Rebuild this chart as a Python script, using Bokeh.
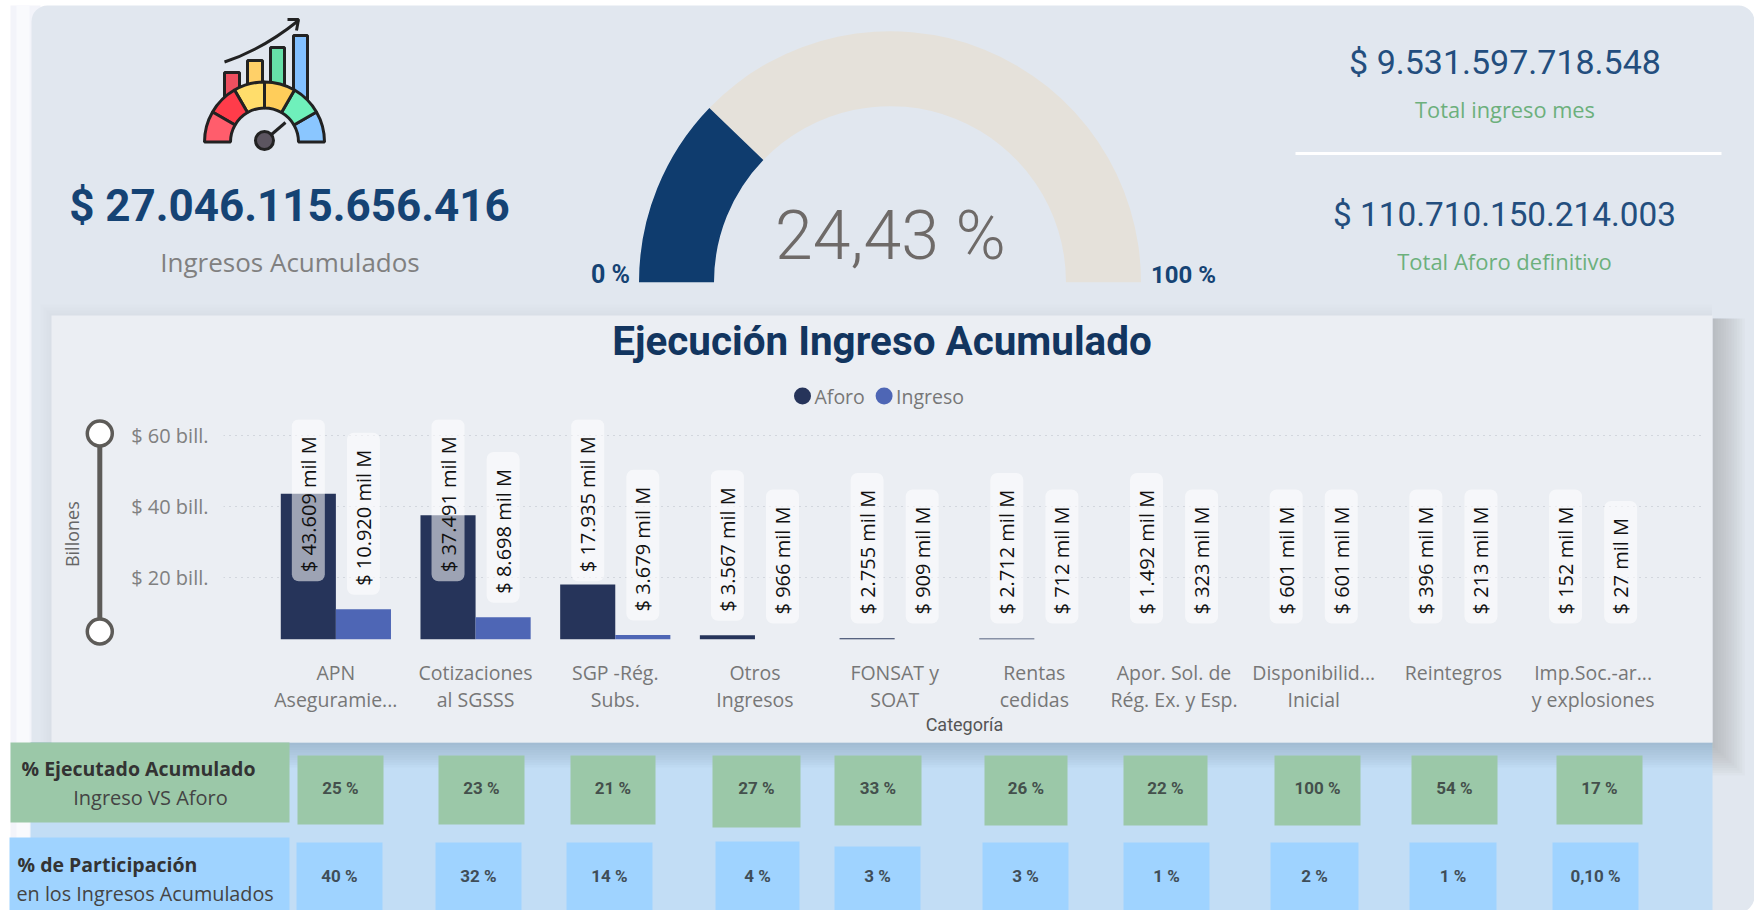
from math import pi, cos, sin, radians
from bokeh.embed import file_html
from bokeh.resources import INLINE
from bokeh.plotting import figure
from bokeh.layouts import column
from bokeh.models import Range1d, FactorRange, Label, FixedTicker, ColumnDataSource, CDSView, BooleanFilter
from bokeh.core.properties import value
from bokeh.transform import dodge

# ---------- data ----------
categories = ["APN\nAseguramie...", "Cotizaciones\nal SGSSS", "SGP -Rég.\nSubs.", "Otros\nIngresos",
              "FONSAT y\nSOAT", "Rentas\ncedidas", "Apor. Sol. de\nRég. Ex. y Esp.",
              "Disponibilid...\nInicial", "Reintegros", "Imp.Soc.-ar...\ny explosiones"]
aforo = [43.609, 37.491, 17.935, 3.567, 2.755, 2.712, 1.492, 0.601, 0.396, 0.152]
ingreso = [10.920, 8.698, 3.679, 0.966, 0.909, 0.712, 0.323, 0.601, 0.213, 0.027]
aforo_labels = ["$ 43.609 mil M", "$ 37.491 mil M", "$ 17.935 mil M", "$ 3.567 mil M", "$ 2.755 mil M",
                "$ 2.712 mil M", "$ 1.492 mil M", "$ 601 mil M", "$ 396 mil M", "$ 152 mil M"]
ingreso_labels = ["$ 10.920 mil M", "$ 8.698 mil M", "$ 3.679 mil M", "$ 966 mil M", "$ 909 mil M",
                  "$ 712 mil M", "$ 323 mil M", "$ 601 mil M", "$ 213 mil M", "$ 27 mil M"]
y_ticks = [20, 40, 60]
y_tick_labels = ["$ 20 bill.", "$ 40 bill.", "$ 60 bill."]
ejecutado = ["25 %", "23 %", "21 %", "27 %", "33 %", "26 %", "22 %", "100 %", "54 %", "17 %"]
participacion = ["40 %", "32 %", "14 %", "4 %", "3 %", "3 %", "1 %", "2 %", "1 %", "0,10 %"]
gauge_value = 24.43

# ---------- layout of the table cells (page pixels) ----------
green_x = [(297, 383), (438, 524), (570, 655), (712, 800), (834, 921), (984, 1067), (1123, 1207), (1274, 1360), (1411, 1497), (1556, 1642)]
green_b = [824, 824, 824, 827, 825, 825, 825, 825, 824, 824]
blue_x = [(296, 382), (435, 521), (566, 652), (715, 799), (834, 920), (982, 1068), (1123, 1209), (1270, 1358), (1409, 1496), (1552, 1638)]
blue_t = [842, 842, 842, 841, 846, 842, 842, 842, 842, 842]

NAVY = "#154374"
DIN = value("Roboto")
SEGOE = value("Open Sans")
PANEL_R = 1712

bg = figure(width=1754, height=910, x_range=Range1d(0, 1754), y_range=Range1d(910, 0),
            x_axis_type=None, y_axis_type=None, toolbar_location=None, output_backend="svg",
            min_border=0, outline_line_color=None, background_fill_color="white", border_fill_color="white",
            frame_align=False)
bg.grid.visible = False


def box(l, r, t, b, color, alpha=1.0, radius=0):
    return bg.quad(left=[l], right=[r], top=[t], bottom=[b], fill_color=color, fill_alpha=alpha,
                   line_color=None, border_radius=radius)


def txt(x, y, s, size, color, font=SEGOE, style="normal", align="center", angle=0):
    bg.text(x=[x], y=[y], text=[s], text_font=font, text_font_size=f"{size}px", text_font_style=style,
            text_color=color, text_align=align, text_baseline="middle", angle=angle)


# page, card, strips
box(10, 40, 5, 910, "#f3f4fa")
box(16, 29, 5, 910, "#f9fafd")
box(31, 1754, 5, 912, "#e1e7ef", radius=16)

# icon
cx_i, cy_i = 264, 141.5
seg_cols = ["#8ac6ff", "#6ff0bb", "#ffcd5a", "#ffdd6b", "#ff3c4a", "#ff5d6c"]
bg.quad(left=[224, 247, 270, 293], right=[239, 262, 284, 307], top=[72, 60, 47, 35], bottom=[100, 90, 90, 100],
        fill_color=["#ef4f5f", "#ffd068", "#66e0a8", "#82c0ff"], line_color="#222222", line_width=3)
for i, c in enumerate(seg_cols):
    bg.annular_wedge(x=[cx_i], y=[cy_i], inner_radius=34, outer_radius=60, start_angle=radians(i * 30),
                     end_angle=radians((i + 1) * 30), fill_color=c, line_color="#222222", line_width=3)
bg.quadratic(x0=[224], y0=[61.5], x1=[298], y1=[20], cx=[262], cy=[49], line_color="#222222", line_width=3)
bg.multi_line(xs=[[287, 298, 296]], ys=[[19, 19, 30]], line_color="#222222", line_width=3)
bg.segment(x0=[264], y0=[140], x1=[285], y1=[122], line_color="#222222", line_width=3)
bg.scatter(x=[264], y=[140], size=18, fill_color="#5c5560", line_color="#222222", line_width=3)

# KPIs
txt(289, 205, "$ 27.046.115.656.416", 44, NAVY, DIN, "bold")
txt(289.5, 261, "Ingresos Acumulados", 26, "#808080")
txt(1504.5, 61.5, "$ 9.531.597.718.548", 34, "#234e7e", DIN)
txt(1504.5, 109, "Total ingreso mes", 21.8, "#6cb07c")
bg.segment(x0=[1295], y0=[153], x1=[1721], y1=[153], line_color="white", line_width=3)
txt(1504, 214, "$ 110.710.150.214.003", 33.3, "#234e7e", DIN)
txt(1504, 260, "Total Aforo definitivo", 22, "#6cb07c")

# gauge
gx, gy, gR, gr = 889.5, 281.7, 251, 176
split = pi * (1 - gauge_value / 100)
bg.annular_wedge(x=[gx], y=[gy], inner_radius=gr, outer_radius=gR, start_angle=0, end_angle=split,
                 fill_color="#e5e1da", line_color=None)
bg.annular_wedge(x=[gx], y=[gy], inner_radius=gr, outer_radius=gR, start_angle=split, end_angle=pi,
                 fill_color="#0f3c6e", line_color=None)
txt(890, 235, f"{gauge_value:.2f} %".replace(".", ","), 68, "#6e6a68", value("Roboto Light"))
txt(610, 274, "0 %", 25, NAVY, DIN, "bold")
txt(1183, 274, "100 %", 24, NAVY, DIN, "bold")

# lower blue band with shadow
box(30, PANEL_R, 742, 910, "#c2ddf5")
for k in range(10):
    box(30, PANEL_R, 742, 742 + 2.5 * (10 - k), "#7f93aa", 0.045)
# panel shadow right
for k in range(12):
    box(PANEL_R, PANEL_R + 2.7 * (12 - k), 318, 775 - 2.5 * k, "#909090", 0.043)
# soft shadow top/left
for k in range(8):
    box(51 - 1.5 * (8 - k), PANEL_R, 315 - 1.5 * (8 - k), 742, "#909090", 0.012)
# panel
box(51, PANEL_R, 315, 742, "#ebeef3")

# panel texts
txt(881.5, 341, "Ejecución Ingreso Acumulado", 40.4, "#12355f", DIN, "bold")
bg.scatter(x=[802, 883.6], y=[395.5, 395.5], size=17, fill_color=["#26345a", "#4e66b5"], line_color=None)
txt(814, 395.5, "Aforo", 19.5, "#777777", align="left")
txt(895.5, 395.5, "Ingreso", 19.5, "#777777", align="left")

# slider
bg.segment(x0=[99.3], y0=[433], x1=[99.3], y1=[631], line_color="#5d5b58", line_width=5)
bg.scatter(x=[99.3, 99.3], y=[433, 631], size=25, fill_color="white", line_color="#5d5b58", line_width=3.5)

# table
box(10, 289, 742, 822, "#9bc8a8")
box(9, 289, 837, 910, "#9fd3ff")
txt(21, 768, "% Ejecutado Acumulado", 19.5, "#333333", SEGOE, "bold", "left")
txt(150, 797, "Ingreso VS Aforo", 20, "#444444")
txt(17, 864, "% de Participación", 19.5, "#333333", SEGOE, "bold", "left")
txt(16, 892.5, "en los Ingresos Acumulados", 19.8, "#444444", align="left")
bg.quad(left=[a for a, _ in green_x], right=[b for _, b in green_x], top=[755] * 10, bottom=green_b,
        fill_color="#9bc8a8", line_color=None)
bg.quad(left=[a for a, _ in blue_x], right=[b for _, b in blue_x], top=blue_t, bottom=[910] * 10,
        fill_color="#9fd3ff", line_color=None)
bg.text(x=[(a + b) / 2 for a, b in green_x], y=[787] * 10, text=ejecutado, text_font=DIN, text_font_size="17px",
        text_font_style="bold", text_color="#44504c", text_align="center", text_baseline="middle")
bg.text(x=[(a + b) / 2 for a, b in blue_x], y=[875] * 10, text=participacion, text_font=DIN, text_font_size="17px",
        text_font_style="bold", text_color="#3f4d58", text_align="center", text_baseline="middle")

# ---------- bar chart, laid over the panel ----------
FR_L, FR_R, FR_T, FR_B = 223, 1705, 419, 639
FIG_L, FIG_T = 51, 418
Y_START, Y_END = 2.4, 64.55
chart = figure(x_range=FactorRange(factors=categories, factor_padding=0, range_padding=0.3045,
                                   range_padding_units="absolute"),
               y_range=Range1d(Y_START, Y_END), frame_width=FR_R - FR_L, frame_height=FR_B - FR_T,
               min_border_left=FR_L - FIG_L, min_border_right=6, min_border_top=FR_T - FIG_T, min_border_bottom=742 - FR_B,
               toolbar_location=None, output_backend="svg", outline_line_color=None,
               background_fill_alpha=0, border_fill_alpha=0, frame_align=False)
chart.margin = (FIG_T - 910, 0, 0, FIG_L)
src = ColumnDataSource(dict(cat=categories, aforo=aforo, ingreso=ingreso))
BAR_W, OFF = 0.3944, 0.1972
chart.vbar(x=dodge("cat", -OFF, range=chart.x_range), top="aforo", width=BAR_W, bottom=0, source=src,
           view=CDSView(filter=BooleanFilter([v > Y_START for v in aforo])),
           fill_color="#26345a", line_color=None)
chart.vbar(x=dodge("cat", OFF, range=chart.x_range), top="ingreso", width=BAR_W, bottom=0, source=src,
           view=CDSView(filter=BooleanFilter([v > Y_START for v in ingreso])),
           fill_color="#4e66b5", line_color=None)
chart.xgrid.visible = False
chart.ygrid.ticker = FixedTicker(ticks=y_ticks)
chart.ygrid.grid_line_color = "#b9bec6"
chart.ygrid.grid_line_dash = "1 5"
chart.ygrid.grid_line_width = 1

xa = chart.xaxis[0]
xa.axis_line_color = None
xa.major_tick_line_color = None
xa.minor_tick_line_color = None
xa.major_tick_out = 0
xa.major_label_standoff = 19
xa.major_label_text_font = "Open Sans"
xa.major_label_text_font_size = "19.5px"
xa.major_label_text_color = "#777777"
xa.major_label_text_line_height = 1.0
xa.major_label_orientation = "horizontal"
xa.axis_label = "Categoría"
xa.axis_label_text_font = "Roboto"
xa.axis_label_text_font_size = "18px"
xa.axis_label_text_font_style = "normal"
xa.axis_label_text_color = "#555555"
xa.axis_label_standoff = -2

ya = chart.yaxis[0]
ya.ticker = FixedTicker(ticks=y_ticks)
ya.major_label_overrides = dict(zip(y_ticks, y_tick_labels))
ya.axis_line_color = None
ya.major_tick_line_color = None
ya.minor_tick_line_color = None
ya.major_tick_out = 0
ya.major_label_standoff = 15
ya.major_label_text_font = "Open Sans"
ya.major_label_text_font_size = "20px"
ya.major_label_text_color = "#808080"
ya.axis_label = "Billones\u00a0\u00a0"
ya.axis_label_text_font = "Open Sans"
ya.axis_label_text_font_size = "18px"
ya.axis_label_text_font_style = "normal"
ya.axis_label_text_color = "#666666"
ya.axis_label_standoff = 44


def anchor(v):
    return max(min(v + 4.1, 18.87), 6.92)


def pills(values, texts, off):
    for i, (v, s) in enumerate(zip(values, texts)):
        chart.add_layout(Label(x=i + 0.5 + off, y=anchor(v), text=s, angle=90, angle_units="deg",
                               text_align="left", text_baseline="middle", text_font="Open Sans", text_font_size="20px",
                               text_color="#111111", background_fill_color="white", background_fill_alpha=0.55,
                               padding=(9, 17, 3, 3), border_radius=7))


pills(aforo, aforo_labels, -OFF)
pills(ingreso, ingreso_labels, OFF)

page = column(bg, chart, spacing=0, margin=0)
open("out.html", "w").write(file_html(page, INLINE))
